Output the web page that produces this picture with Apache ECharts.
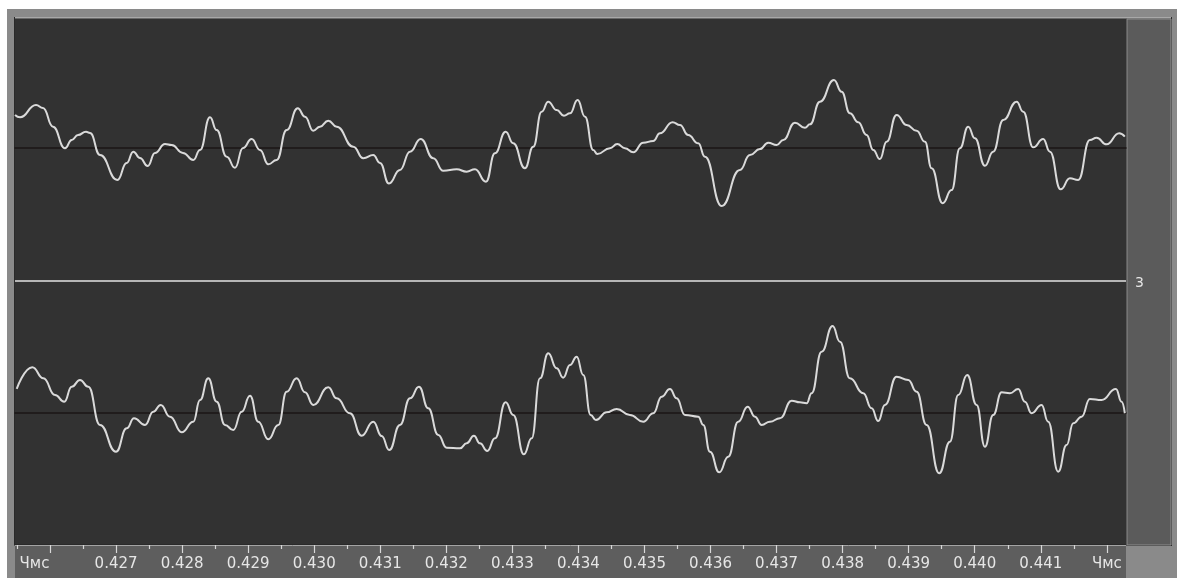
<!DOCTYPE html>
<html>
<head>
<meta charset="utf-8">
<title>Waveform</title>
<script src="https://cdn.jsdelivr.net/npm/echarts@6/dist/echarts.min.js"></script>
<style>
  html, body { margin: 0; padding: 0; background: #ffffff; overflow: hidden; }
  #chart { width: 1177px; height: 578px; }
</style>
</head>
<body>
<div id="chart"></div>
<script>
// Upper channel: time (s) and normalised amplitude
const leftTimes = [
  0.425470, 0.425546, 0.425788, 0.425894, 0.426045, 0.426227, 0.426328, 0.426424, 0.426545, 0.426606,
  0.426757, 0.427019, 0.427161, 0.427261, 0.427362, 0.427479, 0.427589, 0.427741, 0.427842, 0.428013,
  0.428169, 0.428271, 0.428422, 0.428523, 0.428675, 0.428800, 0.428922, 0.429053, 0.429179, 0.429305,
  0.429432, 0.429583, 0.429750, 0.429860, 0.429986, 0.430087, 0.430213, 0.430340, 0.430591, 0.430743,
  0.430894, 0.430995, 0.431132, 0.431298, 0.431450, 0.431612, 0.431802, 0.431954, 0.432157, 0.432308,
  0.432434, 0.432600, 0.432736, 0.432898, 0.433013, 0.433190, 0.433316, 0.433443, 0.433543, 0.433670,
  0.433781, 0.433872, 0.433988, 0.434099, 0.434224, 0.434285, 0.434477, 0.434588, 0.434704, 0.434830,
  0.434981, 0.435133, 0.435234, 0.435426, 0.435537, 0.435662, 0.435814, 0.435915, 0.436168, 0.436445,
  0.436596, 0.436748, 0.436873, 0.437001, 0.437101, 0.437278, 0.437429, 0.437505, 0.437656, 0.437868,
  0.437984, 0.438110, 0.438236, 0.438363, 0.438463, 0.438564, 0.438666, 0.438817, 0.438969, 0.439120,
  0.439246, 0.439347, 0.439514, 0.439650, 0.439775, 0.439901, 0.440002, 0.440154, 0.440279, 0.440431,
  0.440634, 0.440734, 0.440885, 0.441036, 0.441138, 0.441300, 0.441441, 0.441566, 0.441743, 0.441845,
  0.441996, 0.442187, 0.442272
];
const leftAmps = [
  0.254, 0.236, 0.331, 0.308, 0.164, -0.002, 0.062, 0.100, 0.125, 0.115,
  -0.054, -0.246, -0.115, -0.028, -0.077, -0.138, -0.038, 0.031, 0.023, -0.038,
  -0.092, -0.015, 0.236, 0.138, -0.067, -0.152, 0.000, 0.069, -0.015, -0.125,
  -0.092, 0.138, 0.305, 0.241, 0.133, 0.164, 0.210, 0.164, 0.010, -0.079,
  -0.054, -0.115, -0.273, -0.169, -0.028, 0.069, -0.079, -0.175, -0.164, -0.182,
  -0.164, -0.259, -0.041, 0.125, 0.036, -0.156, 0.010, 0.279, 0.356, 0.292,
  0.248, 0.267, 0.369, 0.241, -0.015, -0.046, -0.002, 0.031, -0.002, -0.033,
  0.041, 0.054, 0.113, 0.198, 0.177, 0.100, 0.036, -0.067, -0.446, -0.169,
  -0.054, -0.008, 0.041, 0.023, 0.062, 0.195, 0.156, 0.182, 0.356, 0.523,
  0.433, 0.267, 0.198, 0.100, -0.015, -0.085, 0.048, 0.254, 0.177, 0.133,
  0.048, -0.156, -0.425, -0.323, -0.002, 0.164, 0.075, -0.136, -0.028, 0.215,
  0.356, 0.279, 0.005, 0.069, -0.028, -0.318, -0.233, -0.246, 0.062, 0.079,
  0.028, 0.113, 0.087
];

// Lower channel: time (s) and normalised amplitude
const rightTimes = [
  0.425496, 0.425732, 0.425899, 0.426076, 0.426216, 0.426328, 0.426454, 0.426580, 0.426757, 0.426999,
  0.427161, 0.427272, 0.427438, 0.427564, 0.427676, 0.427817, 0.427994, 0.428169, 0.428271, 0.428396,
  0.428523, 0.428649, 0.428775, 0.428902, 0.429028, 0.429153, 0.429305, 0.429456, 0.429583, 0.429734,
  0.429860, 0.429986, 0.430213, 0.430340, 0.430541, 0.430718, 0.430894, 0.431021, 0.431136, 0.431298,
  0.431450, 0.431586, 0.431727, 0.431878, 0.432005, 0.432206, 0.432308, 0.432418, 0.432509, 0.432620,
  0.432736, 0.432898, 0.433013, 0.433175, 0.433292, 0.433418, 0.433543, 0.433670, 0.433770, 0.433872,
  0.433973, 0.434073, 0.434185, 0.434265, 0.434427, 0.434579, 0.434780, 0.434981, 0.435133, 0.435260,
  0.435385, 0.435487, 0.435613, 0.435814, 0.435890, 0.435991, 0.436132, 0.436268, 0.436419, 0.436562,
  0.436672, 0.436774, 0.436899, 0.437051, 0.437228, 0.437353, 0.437455, 0.437530, 0.437682, 0.437848,
  0.437959, 0.438110, 0.438312, 0.438439, 0.438539, 0.438640, 0.438817, 0.438993, 0.439120, 0.439271,
  0.439462, 0.439624, 0.439750, 0.439886, 0.440028, 0.440154, 0.440279, 0.440407, 0.440532, 0.440658,
  0.440759, 0.440861, 0.441012, 0.441112, 0.441263, 0.441391, 0.441491, 0.441618, 0.441743, 0.441920,
  0.442137, 0.442223, 0.442272
];
const rightAmps = [
  0.185, 0.352, 0.267, 0.138, 0.087, 0.202, 0.254, 0.202, -0.092, -0.298,
  -0.118, -0.041, -0.092, 0.010, 0.062, -0.028, -0.148, -0.067, 0.100, 0.267,
  0.087, -0.092, -0.131, 0.010, 0.133, -0.067, -0.202, -0.092, 0.164, 0.267,
  0.159, 0.062, 0.198, 0.113, -0.002, -0.175, -0.067, -0.177, -0.285, -0.092,
  0.113, 0.202, 0.036, -0.169, -0.267, -0.272, -0.233, -0.175, -0.233, -0.292,
  -0.195, 0.082, -0.015, -0.318, -0.195, 0.267, 0.459, 0.344, 0.272, 0.369,
  0.433, 0.292, -0.015, -0.054, 0.005, 0.031, -0.015, -0.067, -0.002, 0.125,
  0.185, 0.113, -0.015, -0.028, -0.092, -0.298, -0.456, -0.336, -0.067, 0.048,
  -0.028, -0.092, -0.067, -0.041, 0.095, 0.082, 0.075, 0.152, 0.472, 0.669,
  0.548, 0.267, 0.152, 0.036, -0.062, 0.062, 0.279, 0.254, 0.164, -0.092,
  -0.464, -0.221, 0.138, 0.292, 0.062, -0.259, -0.015, 0.159, 0.152, 0.185,
  0.087, -0.002, 0.062, -0.067, -0.452, -0.246, -0.079, -0.028, 0.108, 0.100,
  0.185, 0.087, -0.002
];

// Time ruler
const majorTicks = [0.426, 0.427, 0.428, 0.429, 0.430, 0.431, 0.432, 0.433, 0.434,
                    0.435, 0.436, 0.437, 0.438, 0.439, 0.440, 0.441, 0.442];
const minorTicks = [0.4255, 0.4265, 0.4275, 0.4285, 0.4295, 0.4305, 0.4315, 0.4325,
                    0.4335, 0.4345, 0.4355, 0.4365, 0.4375, 0.4385, 0.4395, 0.4405, 0.4415];
const tickLabels = ['Чмс', '0.427', '0.428', '0.429', '0.430', '0.431', '0.432', '0.433', '0.434',
                    '0.435', '0.436', '0.437', '0.438', '0.439', '0.440', '0.441', 'Чмс'];
const channelMark = '3';

const viewStart = 0.42547;
const viewEnd = 0.44229;

const zip = (xs, ys) => xs.map((x, i) => [x, ys[i]]);

const chart = echarts.init(document.getElementById('chart'), null, { renderer: 'canvas' });

const waveAxis = (gridIndex) => ({
  type: 'value', gridIndex, min: viewStart, max: viewEnd,
  axisLine: { show: true, onZero: true, lineStyle: { color: '#1b1616', width: 1.5 } },
  axisTick: { show: false }, axisLabel: { show: false }, splitLine: { show: false }
});
const plainAxis = (gridIndex, min, max) => ({
  type: 'value', gridIndex, min, max, show: false, splitLine: { show: false }
});
const waveLine = (xi, data) => ({
  type: 'line', xAxisIndex: xi, yAxisIndex: xi, data,
  showSymbol: false, smooth: 0.5, smoothMonotone: 'x',
  lineStyle: { color: '#dadada', width: 2 }, silent: true, z: 3
});

const shadowText = { textShadowColor: '#151515', textShadowOffsetX: 1, textShadowOffsetY: 1, textShadowBlur: 0 };
const rulerGrid = { left: 15, top: 545, width: 1111, height: 32 };

chart.setOption({
  animation: false,
  backgroundColor: '#ffffff',
  grid: [
    { left: 15, top: 18, width: 1111, height: 260 },
    { left: 15, top: 283, width: 1111, height: 260 },
    rulerGrid,
    rulerGrid
  ],
  xAxis: [
    waveAxis(0),
    waveAxis(1),
    {
      type: 'value', gridIndex: 2, position: 'top', min: viewStart, max: viewEnd,
      axisLine: { show: true, onZero: false, lineStyle: { color: '#a4a4a4', width: 1 } },
      axisTick: { show: true, inside: true, length: 8, customValues: majorTicks,
                  lineStyle: { color: '#d8d8d8', width: 1.2 } },
      axisLabel: {
        show: true, inside: true, margin: 12, customValues: majorTicks,
        color: '#e6e6e6', fontSize: 15, fontFamily: 'DejaVu Sans',
        ...shadowText,
        formatter: (v) => {
          const i = majorTicks.findIndex(t => Math.abs(t - v) < 1e-7);
          if (i === 0) return '{u|' + tickLabels[i] + '}';
          return i >= 0 ? tickLabels[i] : '';
        },
        rich: { u: { padding: [0, 31, 0, 0], color: '#e6e6e6', fontSize: 15,
                     fontFamily: 'DejaVu Sans', ...shadowText } }
      },
      splitLine: { show: false }
    },
    {
      type: 'value', gridIndex: 3, position: 'top', min: viewStart, max: viewEnd,
      axisLine: { show: false, onZero: false },
      axisTick: { show: true, inside: true, length: 4, customValues: minorTicks,
                  lineStyle: { color: '#d8d8d8', width: 1.2 } },
      axisLabel: { show: false },
      splitLine: { show: false }
    }
  ],
  yAxis: [
    plainAxis(0, -1, 1),
    plainAxis(1, -1, 1),
    plainAxis(2, 0, 1),
    plainAxis(3, 0, 1)
  ],
  graphic: [
    { type: 'rect', z: -100, shape: { x: 7, y: 9, width: 1170, height: 569 }, style: { fill: '#8a8a8a' } },
    { type: 'rect', z: -99, shape: { x: 14, y: 17, width: 1158, height: 529 }, style: { fill: '#2a2a2a' } },
    { type: 'rect', z: -98, shape: { x: 15, y: 17, width: 1156, height: 1.5 }, style: { fill: '#a8a8a8' } },
    { type: 'rect', z: -97, shape: { x: 15, y: 19, width: 1111, height: 525 }, style: { fill: '#323232' } },
    { type: 'rect', z: -97, shape: { x: 1127, y: 19, width: 44, height: 526 },
      style: { fill: '#5b5b5b', stroke: '#8e8e8e', lineWidth: 1 } },
    { type: 'rect', z: -97, shape: { x: 15, y: 545, width: 1111, height: 33 }, style: { fill: '#5e5e5e' } },
    { type: 'rect', z: -96, shape: { x: 15, y: 280, width: 1111, height: 2 }, style: { fill: '#b6b6b6' } },
    { type: 'text', z: 10, x: 1135, y: 276,
      style: { text: channelMark, fill: '#e6e6e6', font: '14px "DejaVu Sans"',
               textShadowColor: '#151515', textShadowOffsetX: 1, textShadowOffsetY: 1 } }
  ],
  series: [
    waveLine(0, zip(leftTimes, leftAmps)),
    waveLine(1, zip(rightTimes, rightAmps))
  ]
});
</script>
</body>
</html>
